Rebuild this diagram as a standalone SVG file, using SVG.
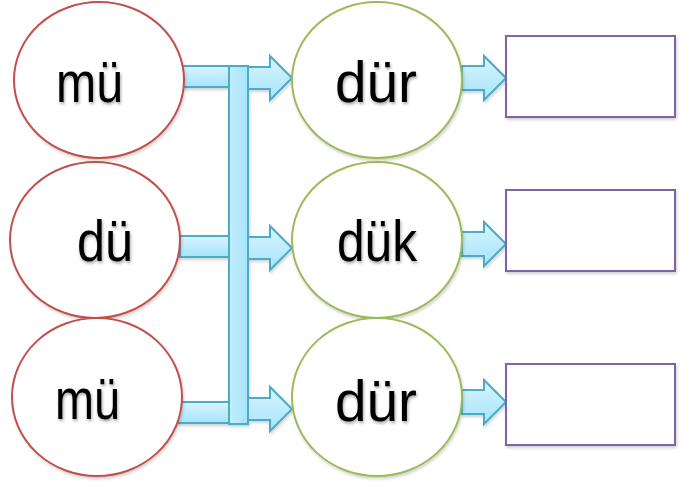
<svg xmlns="http://www.w3.org/2000/svg" width="689" height="488" viewBox="0 0 689 488">
<defs>
<linearGradient id="blue" x1="0" y1="0" x2="0" y2="1">
<stop offset="0" stop-color="#d8f4ff"/>
<stop offset="1" stop-color="#a6e4f9"/>
</linearGradient>
<linearGradient id="blueV" x1="0" y1="0" x2="1" y2="0">
<stop offset="0" stop-color="#c4eefc"/>
<stop offset="1" stop-color="#a6e4f9"/>
</linearGradient>
<filter id="sh" x="-10%" y="-10%" width="130%" height="130%">
<feDropShadow dx="1" dy="2" stdDeviation="1.5" flood-color="#000" flood-opacity="0.18"/>
</filter>
<filter id="tsh" x="-20%" y="-20%" width="140%" height="140%">
<feDropShadow dx="1" dy="2" stdDeviation="1.5" flood-color="#000" flood-opacity="0.35"/>
</filter>
</defs>
<style>
.red{fill:#fff;stroke:#c0504d;stroke-width:2}
.green{fill:#fff;stroke:#9bbb59;stroke-width:2}
.box{fill:#fff;stroke:#8064a2;stroke-width:2}
.arr{fill:url(#blue);stroke:#4bacc6;stroke-width:2;stroke-linejoin:miter}
.t{font-family:"Liberation Sans",Arial,sans-serif;font-size:57px;fill:#000}
</style>

<g id="connectors" filter="url(#sh)">
<rect class="arr" x="182" y="66" width="48" height="21"/>
<rect class="arr" x="180" y="236" width="50" height="21"/>
<rect class="arr" x="177" y="402" width="53" height="21"/>
<rect class="arr" x="229" y="66" width="19" height="358" style="fill:url(#blueV)"/>
<path class="arr" d="M248,67 H270 V56 L292,78 L270,100 V89 H248 Z"/>
<path class="arr" d="M248,237 H270 V226 L292,248 L270,270 V259 H248 Z"/>
<path class="arr" d="M248,398 H270 V387 L292,409 L270,431 V420 H248 Z"/>
<path class="arr" d="M462,66 H484 V56 L506,78 L484,100 V90 H462 Z"/>
<path class="arr" d="M462,232 H484 V222 L506,244 L484,266 V256 H462 Z"/>
<path class="arr" d="M462,390 H484 V380 L506,402 L484,424 V414 H462 Z"/>
</g>

<g id="n1" filter="url(#sh)">
<ellipse class="red" cx="99" cy="80" rx="85" ry="78"/>
</g>
<g id="n2" filter="url(#sh)">
<ellipse class="red" cx="95" cy="240" rx="85" ry="78"/>
</g>
<g id="n3" filter="url(#sh)">
<ellipse class="red" cx="97" cy="397" rx="85" ry="79"/>
</g>
<g id="n4" filter="url(#sh)">
<ellipse class="green" cx="377" cy="80" rx="85" ry="78"/>
</g>
<g id="n5" filter="url(#sh)">
<ellipse class="green" cx="377" cy="240" rx="85" ry="78"/>
</g>
<g id="n6" filter="url(#sh)">
<ellipse class="green" cx="377" cy="397" rx="85" ry="79"/>
</g>
<g id="b1" filter="url(#sh)"><rect class="box" x="506" y="36" width="169" height="81"/></g>
<g id="b2" filter="url(#sh)"><rect class="box" x="506" y="190" width="169" height="81"/></g>
<g id="b3" filter="url(#sh)"><rect class="box" x="506" y="364" width="169" height="81"/></g>

<g id="labels" filter="url(#tsh)">
<text class="t" x="56" y="102" textLength="67" lengthAdjust="spacingAndGlyphs">mü</text>
<text class="t" x="77" y="261" textLength="56" lengthAdjust="spacingAndGlyphs">dü</text>
<text class="t" x="55" y="419" textLength="65" lengthAdjust="spacingAndGlyphs">mü</text>
<text class="t" x="335" y="102" textLength="82" lengthAdjust="spacingAndGlyphs">dür</text>
<text class="t" x="337" y="261" textLength="80" lengthAdjust="spacingAndGlyphs">dük</text>
<text class="t" x="335" y="421" textLength="82" lengthAdjust="spacingAndGlyphs">dür</text>
</g>
</svg>
